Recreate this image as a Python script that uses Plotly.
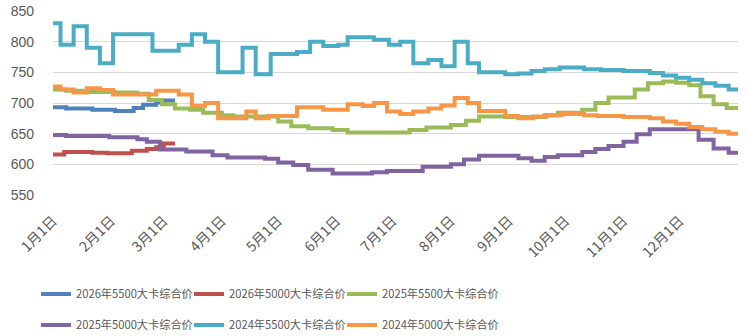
import pandas as pd
import plotly.graph_objects as go

# Step-series prices (元/吨): day of year where a new price starts, and that price.
blue_days = [1, 8, 22, 34, 44, 49, 56, 60, 66]
blue_vals = [693, 691, 689, 687, 692, 697, 701, 704, 704]

red_days = [1, 7, 22, 30, 43, 51, 56, 60, 66]
red_vals = [616, 620, 619, 618, 622, 625, 628, 634, 634]

green_days = [1, 8, 19, 34, 46, 52, 59, 66, 74, 81, 91, 97, 121, 128, 137, 150, 158,
              191, 200, 213, 221, 228, 242, 263, 270, 283, 290, 297, 311, 318, 326,
              333, 340, 346, 353, 360, 366]
green_vals = [722, 720, 718, 717, 715, 705, 698, 691, 689, 684, 680, 678, 670, 662, 659,
              656, 652, 656, 660, 664, 671, 678, 677, 680, 684, 689, 700, 709, 722, 732,
              735, 733, 729, 711, 698, 692, 692]

purple_days = [1, 8, 31, 46, 51, 58, 72, 86, 94, 114, 121, 129, 137, 150, 171, 179, 198,
               213, 220, 228, 249, 256, 263, 270, 283, 290, 297, 305, 312, 319, 345,
               353, 361, 366]
purple_vals = [648, 646, 644, 641, 637, 624, 621, 615, 611, 609, 603, 599, 591, 585, 587,
               589, 596, 600, 608, 614, 610, 606, 612, 615, 620, 625, 630, 637, 649, 657,
               640, 626, 619, 619]

cyan_days = [1, 5, 12, 19, 26, 33, 54, 68, 75, 82, 89, 102, 109, 117, 131, 138, 145, 153,
             158, 172, 180, 186, 193, 201, 208, 215, 222, 228, 242, 249, 256, 263, 271,
             284, 293, 305, 319, 326, 333, 340, 347, 354, 361, 366]
cyan_vals = [830, 795, 825, 790, 765, 812, 785, 795, 812, 800, 750, 790, 747, 780, 783,
             800, 793, 795, 807, 803, 795, 800, 765, 770, 760, 800, 765, 750, 747, 748,
             752, 755, 758, 755, 754, 752, 749, 745, 741, 738, 732, 728, 722, 722]

orange_days = [1, 5, 12, 19, 26, 33, 56, 68, 75, 82, 89, 104, 109, 116, 131, 145, 158,
               166, 172, 179, 186, 193, 201, 208, 215, 222, 228, 242, 249, 257, 264, 272,
               284, 291, 305, 319, 326, 333, 340, 347, 354, 361, 366]
orange_vals = [727, 722, 717, 724, 721, 714, 720, 714, 695, 700, 675, 686, 675, 679, 693,
               689, 698, 695, 700, 686, 682, 686, 691, 696, 708, 700, 687, 679, 675, 678,
               680, 682, 680, 679, 677, 675, 670, 666, 661, 657, 653, 650, 650]

series = [
    ("2026年5500大卡综合价", blue_days, blue_vals, "#4F81BD", "legend"),
    ("2026年5000大卡综合价", red_days, red_vals, "#C0504D", "legend"),
    ("2025年5500大卡综合价", green_days, green_vals, "#9BBB59", "legend"),
    ("2025年5000大卡综合价", purple_days, purple_vals, "#8064A2", "legend2"),
    ("2024年5500大卡综合价", cyan_days, cyan_vals, "#4BACC6", "legend2"),
    ("2024年5000大卡综合价", orange_days, orange_vals, "#F79646", "legend2"),
]

# Month-start ticks on a day-of-year axis
months = list(range(1, 13))
tick_days = [pd.Timestamp(2025, m, 1).dayofyear for m in months]
tick_text = [f"{m}月1日" for m in months]

fig = go.Figure()
for i, (name, days, vals, color, leg) in enumerate(series):
    # last entry of each legend row gets extra room so its text is not clipped
    fig.add_trace(go.Scatter(
        x=days, y=vals, name=name, mode="lines", line_shape="hv",
        line=dict(color=color, width=4), legend=leg,
        legendwidth=125 if i % 3 == 2 else 108,
    ))

text_color = "#595959"
legend_font = dict(family="Noto Sans CJK SC, sans-serif", size=11.2, color=text_color)

fig.update_layout(
    width=747, height=336,
    margin=dict(l=53, r=9, t=11, b=141, autoexpand=False),
    plot_bgcolor="white", paper_bgcolor="white",
    showlegend=True,
    xaxis=dict(
        range=[1, 366], tickmode="array", tickvals=tick_days, ticktext=tick_text,
        tickangle=-45, showgrid=False, zeroline=False, showline=False, ticks="",
        ticklabelstandoff=14,
        tickfont=dict(family="Noto Sans CJK SC, sans-serif", size=14, color=text_color),
    ),
    yaxis=dict(
        range=[550, 850], tick0=550, dtick=50, gridcolor="#D9D9D9", gridwidth=1,
        zeroline=False, showline=False, ticks="", ticklabelstandoff=18,
        tickfont=dict(family="Liberation Sans, sans-serif", size=14, color=text_color),
    ),
    legend=dict(orientation="h", x=-0.0248, xanchor="left", y=-0.538, yanchor="middle",
                entrywidthmode="pixels", font=legend_font,
                bgcolor="rgba(0,0,0,0)", traceorder="normal"),
    legend2=dict(orientation="h", x=-0.0248, xanchor="left", y=-0.7065, yanchor="middle",
                 entrywidthmode="pixels", font=legend_font,
                 bgcolor="rgba(0,0,0,0)", traceorder="normal"),
)

fig.write_html("out.html")
